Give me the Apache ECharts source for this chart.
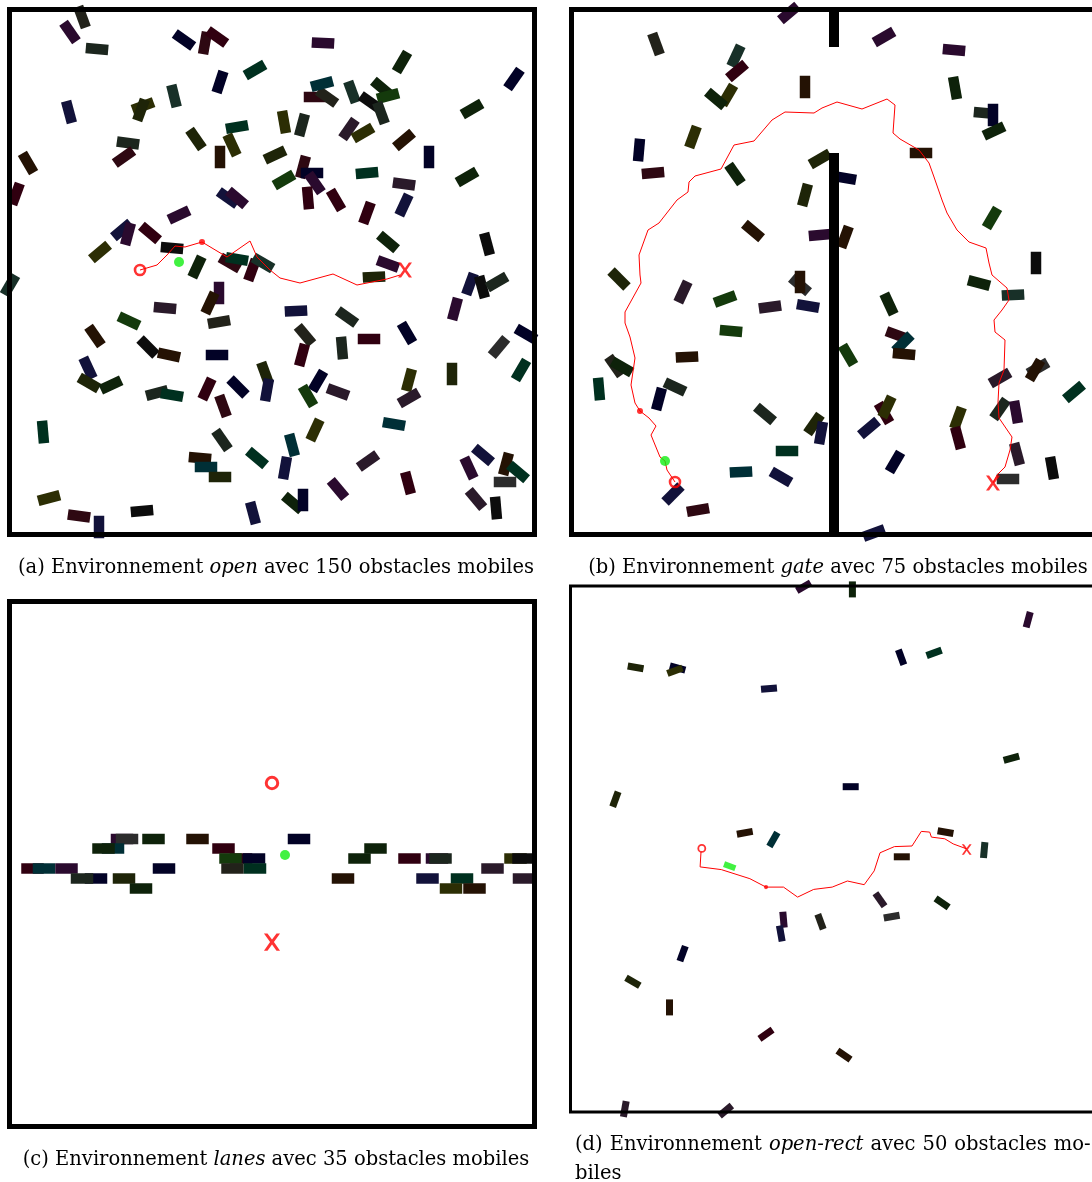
<!doctype html>
<html>
<head>
<meta charset="utf-8">
<title>Environnements avec obstacles mobiles</title>
<script src="https://cdn.jsdelivr.net/npm/echarts@6/dist/echarts.min.js"></script>
<style>
html, body { margin: 0; padding: 0; background: #fff; }
#main { width: 1092px; height: 1182px; }
</style>
</head>
<body>
<div id="main"></div>
<script type="text/javascript">
// couleurs des obstacles (indice = 4e valeur de chaque obstacle)
var palette = ['#22221a', '#2a0a2e', '#1c261e', '#020226', '#2e0812', '#00301f', '#183028', '#2c2e04', '#0e220a',
	'#241204', '#12123a', '#2a1a2a', '#0c0c0c', '#2c2c2c', '#143a0c', '#002f36', '#300010', '#1e2408'];

// obstacles : [x, y, angle (deg), couleur]
var openObstacles = [
	[82, 17, 70, 0], [70, 32, 55, 1], [97, 49, 5, 2], [184, 40, 35, 3], [205, 43, -80, 4], [217, 37, 35, 16],
	[255, 70, -30, 5], [220, 82, -72, 3], [174, 96, 76, 6], [143, 106, -20, 7], [141, 110, -70, 17], [69, 112, 75, 10],
	[128, 143, 8, 2], [124, 157, -35, 4], [196, 139, 55, 17], [237, 127, -10, 5], [232, 145, 65, 7], [220, 157, 90, 9],
	[275, 155, -25, 17], [28, 163, 60, 9], [16, 194, -70, 16], [228, 198, 35, 10], [237, 198, 40, 1], [179, 215, -25, 1],
	[100, 252, -40, 7], [122, 230, -40, 10], [128, 234, -75, 1], [150, 233, 40, 16], [172, 248, 5, 12], [197, 267, -65, 8],
	[230, 263, 30, 4], [237, 259, 10, 5], [252, 270, -70, 16], [263, 263, 30, 6], [323, 43, 3, 1], [402, 62, -60, 8],
	[514, 79, -55, 3], [315, 97, 0, 4], [327, 97, 35, 0], [322, 84, -15, 15], [352, 92, 70, 6], [382, 88, 40, 8],
	[370, 102, 35, 12], [388, 96, -15, 14], [381, 113, 70, 2], [284, 122, 80, 7], [302, 125, -75, 2], [349, 129, -55, 11],
	[363, 133, -30, 7], [404, 140, -40, 9], [429, 157, 90, 3], [472, 109, -30, 8], [284, 180, -30, 14], [303, 167, -75, 4],
	[312, 173, 0, 3], [315, 183, 55, 1], [308, 198, 85, 16], [336, 200, 60, 16], [367, 173, -5, 5], [404, 184, 8, 11],
	[404, 205, -65, 10], [467, 177, -30, 8], [367, 213, -70, 16], [388, 242, 40, 8], [388, 264, 20, 1], [487, 244, 75, 12],
	[367, 7, -30, 1], [219, 293, 90, 1], [210, 303, -65, 9], [165, 308, 5, 11], [129, 321, 25, 14], [219, 322, -10, 0],
	[95, 336, 55, 9], [148, 347, 45, 12], [169, 355, 12, 9], [217, 355, 0, 3], [88, 368, 65, 10], [89, 383, 30, 17],
	[111, 385, -25, 8], [157, 393, -15, 2], [172, 395, 10, 5], [207, 389, -65, 16], [223, 406, 70, 4], [238, 387, 45, 3],
	[265, 373, 70, 17], [267, 390, -80, 10], [43, 432, 85, 5], [222, 440, 55, 2], [200, 458, 5, 9], [206, 467, 0, 15],
	[220, 477, 0, 17], [257, 458, 40, 5], [49, 498, -15, 7], [79, 516, 8, 4], [142, 511, -5, 12], [99, 527, 90, 10],
	[253, 513, 75, 10], [374, 277, -3, 17], [470, 284, -70, 10], [482, 287, 75, 12], [497, 282, -30, 2], [455, 309, -75, 1],
	[296, 311, -3, 10], [347, 317, 35, 2], [305, 335, 50, 0], [302, 355, -75, 16], [342, 348, 85, 2], [369, 339, 0, 16],
	[407, 333, 60, 3], [499, 347, -50, 13], [526, 334, 30, 3], [521, 370, -60, 5], [535, 375, -60, 11], [452, 374, 90, 17],
	[409, 380, -75, 7], [409, 398, -30, 11], [318, 381, -60, 3], [308, 396, 60, 14], [338, 392, 20, 11], [315, 430, -65, 7],
	[394, 424, 10, 15], [292, 445, 75, 15], [285, 468, -80, 10], [368, 461, -35, 11], [338, 489, 50, 1], [408, 483, 75, 16],
	[293, 503, 40, 8], [303, 500, 90, 3], [483, 455, 40, 10], [469, 468, 65, 1], [506, 464, -75, 9], [518, 472, 40, 5],
	[505, 482, 0, 13], [476, 499, 50, 11], [496, 508, 85, 12], [10, 285, -60, 6]
];
var gateObstacles = [
	[685, 7, -60, 14], [656, 44, 70, 0], [789, 13, -40, 1], [736, 56, -65, 6], [737, 71, -40, 16], [728, 95, -60, 7],
	[716, 99, 40, 8], [805, 87, 90, 9], [693, 137, -70, 7], [639, 150, -85, 3], [653, 173, -5, 4], [735, 174, 55, 8],
	[820, 159, -30, 17], [805, 195, -75, 17], [753, 231, 40, 9], [820, 235, -5, 1], [884, 37, -30, 1], [954, 50, 5, 1],
	[955, 88, 80, 8], [985, 113, 5, 2], [993, 115, 90, 3], [994, 131, -25, 8], [921, 153, 0, 9], [845, 178, 10, 3],
	[845, 237, -70, 9], [992, 218, -60, 14], [1036, 263, 90, 12], [889, 5, -30, 1], [619, 279, 45, 17], [683, 292, -65, 11],
	[725, 299, -20, 14], [770, 307, -8, 11], [800, 285, 40, 13], [800, 282, 90, 9], [808, 306, 10, 10], [731, 331, 5, 14],
	[687, 357, -3, 9], [615, 366, 55, 0], [622, 367, 30, 8], [599, 389, 85, 5], [675, 387, 25, 2], [659, 399, -75, 3],
	[765, 414, 40, 2], [814, 424, -55, 17], [821, 433, -80, 10], [787, 451, 0, 5], [741, 472, -3, 15], [781, 477, 30, 10],
	[673, 494, -45, 10], [698, 510, -10, 4], [979, 283, 15, 8], [1013, 295, -3, 6], [889, 304, 65, 8], [897, 335, 20, 4],
	[903, 343, -45, 15], [904, 354, 5, 9], [848, 355, 60, 14], [1000, 378, -30, 11], [1038, 368, -30, 13], [1035, 370, -60, 9],
	[1074, 392, -40, 5], [884, 413, 60, 16], [887, 407, -65, 7], [869, 428, -40, 10], [958, 418, -70, 7], [958, 438, 75, 16],
	[1000, 409, -55, 2], [1016, 412, 80, 1], [1017, 454, 75, 11], [1052, 468, 80, 12], [895, 462, -60, 3], [1008, 479, 0, 13],
	[852, 535, -10, 10], [874, 533, -20, 10]
];
var lanesObstacles = [
	[122, 839, 0, 1], [127, 839, 0, 13], [153.5, 839, 0, 8], [197.5, 839, 0, 9], [299, 839, 0, 3],
	[113, 848.5, 0, 15], [103.5, 848.5, 0, 8], [223.5, 848.5, 0, 16], [375.5, 848.5, 0, 8],
	[241, 858.5, 0, 16], [230.5, 858.5, 0, 14], [254, 858.5, 0, 3], [359.5, 858.5, 0, 8], [409.5, 858.5, 0, 16],
	[437, 858.5, 0, 1], [440.5, 858.5, 0, 2], [515.5, 858.5, 0, 7], [523.5, 858.5, 0, 12],
	[32.5, 868.5, 0, 16], [44, 868.5, 0, 15], [66.5, 868.5, 0, 1], [164, 868.5, 0, 3], [232.5, 868.5, 0, 0],
	[255, 868.5, 0, 5], [492.5, 868.5, 0, 11],
	[96, 878.5, 0, 3], [82, 878.5, 0, 2], [124, 878.5, 0, 17], [343, 878.5, 0, 9], [427.5, 878.5, 0, 10],
	[462, 878.5, 0, 5], [524, 878.5, 0, 11],
	[141, 888.5, 0, 8], [451, 888.5, 0, 7], [474.5, 888.5, 0, 9]
];
var openRectObstacles = [
	[803.7, 586.7, -30, 1], [852.4, 589.4, 90, 8], [1028.2, 619.7, -75, 1], [635.6, 667.4, 10, 17], [677.6, 668, 15, 3],
	[674.9, 670.8, -20, 7], [901.1, 657.3, 70, 3], [934.1, 652.9, -20, 5], [769, 688.6, -5, 10], [1011.4, 758.2, -15, 8],
	[615.4, 799.2, -70, 17], [850.7, 786.7, 0, 3], [744.8, 832.8, -10, 9], [773.4, 839.5, -60, 15], [945.5, 832.1, 10, 9],
	[984.2, 850.1, -85, 6], [901.8, 856.8, 0, 9], [880, 899.8, 55, 11], [891.7, 916.6, -10, 13], [942.1, 902.9, 35, 8],
	[783.5, 919.7, 85, 1], [780.8, 933.4, 80, 10], [820.5, 921.7, 70, 0], [682.6, 953.6, -70, 3], [632.9, 981.8, 30, 17],
	[669.5, 1007.4, 90, 9], [766, 1034.3, -35, 16], [844, 1055.1, 35, 9], [624.8, 1108.9, -80, 11], [725.7, 1110.6, -40, 11]
];

// trajectoires du robot
var openPath = [[140, 270], [157, 265], [167, 255], [175, 246], [185, 247], [202, 242], [227, 257], [250, 241], [257, 257],
	[270, 270], [280, 278], [300, 283], [333, 274], [357, 285], [367, 283], [387, 279], [400, 275]];
var gatePath = [[675, 482], [667, 470], [665, 461], [660, 457], [651, 435], [656, 426], [649, 418], [640, 411], [635, 403],
	[631, 385], [635, 358], [630, 337], [625, 323], [625, 312], [641, 283], [640, 275], [639, 255], [648, 230], [659, 223],
	[677, 200], [688, 192], [689, 182], [695, 176], [721, 169], [734, 145], [754, 141], [772, 120], [785, 112], [814, 113],
	[822, 108], [837, 102], [862, 109], [887, 99], [895, 105], [893, 133], [900, 139], [919, 150], [929, 163], [934, 177],
	[942, 200], [947, 213], [957, 230], [969, 242], [986, 248], [989, 263], [992, 275], [1007, 288], [1009, 300], [1002, 310],
	[994, 320], [995, 332], [1005, 340], [1004, 370], [999, 383], [998, 402], [999, 418], [1012, 437], [1010, 450],
	[1005, 467], [997, 475], [993, 483]];
var openRectPath = [[701, 852], [700.1, 866.9], [721.3, 869.6], [749.9, 878.7], [766, 887.1], [783.5, 887.1], [797.6, 897.1],
	[813.7, 889.4], [832.2, 887.1], [847.4, 881], [864.2, 884.7], [874.2, 870.9], [880, 852.8], [894.4, 846.6], [912, 846],
	[921.3, 831.4], [929.7, 832.1], [931.4, 837.1], [944.8, 838.8], [953.2, 843.9], [966.7, 848.9]];

// mur de l'environnement gate (deux segments)
var gateWall = [[[834, 9.5], [834, 47]], [[834, 153], [834, 534.5]]];

// départ, robot, point intermédiaire, but : un par environnement (a, b, c, d)
var startPoints = [[140, 270], [675, 482], [272, 783], [701.8, 848.4]];
var robotPoints = [[179, 262], [665, 461], [285, 855], [729.7, 866.2]];
var waypointPoints = [[202, 242], [640, 411], null, [766, 887.1]];
var goalPoints = [[405, 270], [993, 483], [272, 942], [966.7, 849.4]];

var captions = [
	'(a) Environnement {i|open} avec 150 obstacles mobiles',
	'(b) Environnement {i|gate} avec 75 obstacles mobiles',
	'(c) Environnement {i|lanes} avec 35 obstacles mobiles',
	'(d){s|}Environnement{s|}{i|open-rect}{s|}avec{s|}50{s|}obstacles{s|}mo-',
	'biles'
];

// cadres des quatre panneaux (b et d débordent à droite)
var frames = [
	{ left: 9.5, top: 9.5, width: 525, height: 525, border: 5 },
	{ left: 571.5, top: 9.5, width: 560, height: 525, border: 5 },
	{ left: 9.5, top: 601.5, width: 525, height: 525, border: 5 },
	{ left: 570.5, top: 586, width: 560, height: 526, border: 3 }
];
var obstacleSets = [openObstacles, gateObstacles, lanesObstacles, openRectObstacles];
var paths = [openPath, gatePath, null, openRectPath];
var obstacleSize = [[22.5, 10.5], [22.5, 10.5], [22.5, 10.5], [16, 7]];
var markerScale = [1, 1, 1.15, 0.7];

var crossPath = 'path://M0,0L2.2,0L5,3.6L7.8,0L10,0L6.2,5L10,10L7.8,10L5,6.4L2.2,10L0,10L3.8,5Z';
var serif = 'DejaVu Serif';
var fontSize = 19.5;

var chart = echarts.init(document.getElementById('main'));

var grids = [], xAxes = [], yAxes = [], series = [];
frames.forEach(function(f, i) {
	grids.push({
		left: f.left, top: f.top, width: f.width, height: f.height,
		outerBoundsMode: 'none', containLabel: false,
		show: true, borderColor: '#000', borderWidth: f.border,
		backgroundColor: 'rgba(0,0,0,0)', z: 10
	});
	xAxes.push({ type: 'value', gridIndex: i, min: f.left, max: f.left + f.width, show: false });
	yAxes.push({ type: 'value', gridIndex: i, min: f.top, max: f.top + f.height, inverse: true, show: false });

	// obstacles
	series.push({
		type: 'scatter', xAxisIndex: i, yAxisIndex: i, data: obstacleSets[i],
		symbol: 'rect', symbolSize: obstacleSize[i],
		symbolRotate: function(v) { return -v[2]; },
		itemStyle: { color: function(p) { return palette[p.data[3]]; }, opacity: 1 },
		silent: true, z: 2
	});
	// trajectoire (polyline)
	if (paths[i]) {
		series.push({
			type: 'lines', coordinateSystem: 'cartesian2d', xAxisIndex: i, yAxisIndex: i, polyline: true,
			data: [{ coords: paths[i] }],
			lineStyle: { color: '#ff0000', width: 1, opacity: 1 }, silent: true, z: 20
		});
	}
	var s = markerScale[i];
	// robot
	series.push({
		type: 'scatter', xAxisIndex: i, yAxisIndex: i, data: [robotPoints[i]],
		symbol: i == 3 ? 'rect' : 'circle',
		symbolSize: i == 3 ? [12, 6] : 10,
		symbolRotate: i == 3 ? -20 : 0,
		itemStyle: { color: '#11ee11' }, silent: true, z: 21
	});
	if (waypointPoints[i]) {
		series.push({
			type: 'scatter', xAxisIndex: i, yAxisIndex: i, data: [waypointPoints[i]],
			symbol: 'circle', symbolSize: 6 * s, itemStyle: { color: '#ff0000' }, silent: true, z: 21
		});
	}
	// départ
	series.push({
		type: 'scatter', xAxisIndex: i, yAxisIndex: i, data: [startPoints[i]],
		symbol: 'circle', symbolSize: 10 * s,
		itemStyle: { color: 'rgba(255,255,255,0)', borderColor: '#ff0000', borderWidth: 2.6 * s },
		silent: true, z: 21
	});
	// but
	series.push({
		type: 'scatter', xAxisIndex: i, yAxisIndex: i, data: [goalPoints[i]],
		symbol: crossPath, symbolSize: [14 * s, 15 * s], itemStyle: { color: '#ff0000' }, silent: true, z: 21
	});
});

// mur
gateWall.forEach(function(seg) {
	series.push({
		type: 'line', xAxisIndex: 1, yAxisIndex: 1, data: seg, symbol: 'none',
		lineStyle: { color: '#000', width: 10, cap: 'butt' }, silent: true, z: 6
	});
});

function caption(text, left, top, align) {
	return {
		text: text, left: left, top: top, textAlign: align,
		textStyle: {
			fontFamily: serif, fontSize: fontSize, fontWeight: 'normal', color: '#000',
			rich: {
				i: { fontFamily: serif, fontSize: fontSize, fontStyle: 'italic', color: '#000' },
				s: { width: 7, fontSize: fontSize }
			}
		}
	};
}

chart.setOption({
	animation: false,
	title: [
		caption(captions[0], 271, 553, 'center'),
		caption(captions[1], 833, 553, 'center'),
		caption(captions[2], 271, 1145, 'center'),
		caption(captions[3], 570, 1130, 'left'),
		caption(captions[4], 570, 1159, 'left')
	],
	grid: grids,
	xAxis: xAxes,
	yAxis: yAxes,
	series: series
});
</script>
</body>
</html>
